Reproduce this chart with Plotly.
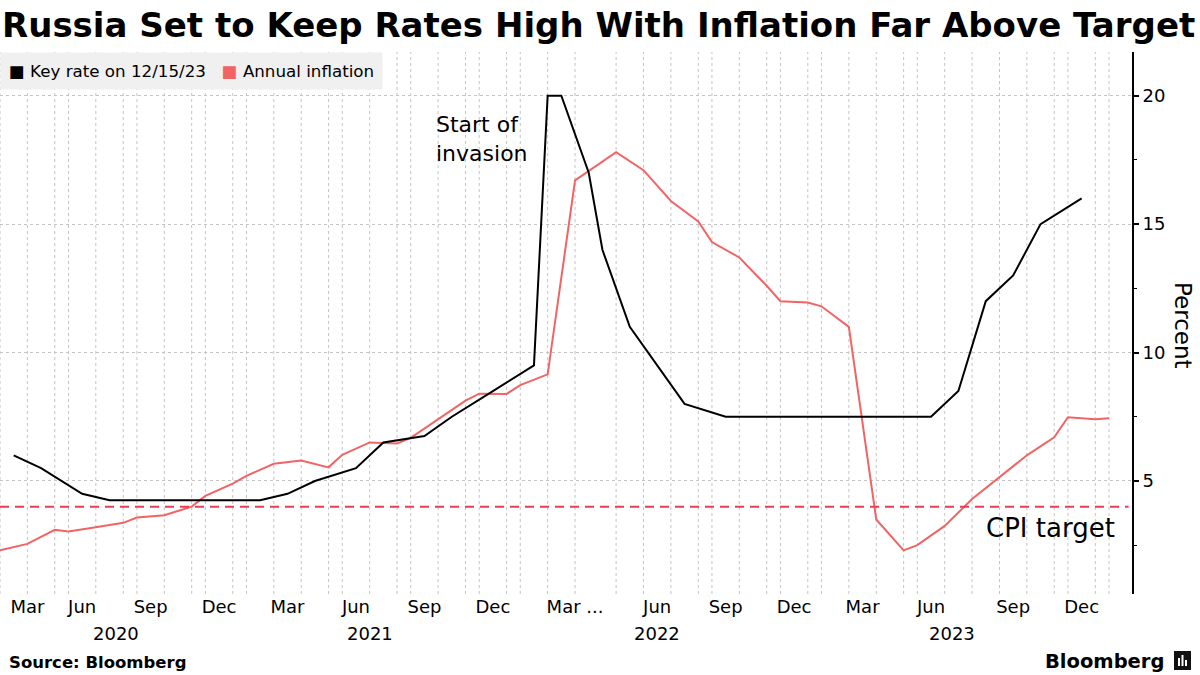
import plotly.graph_objects as go

# ---------------- data ----------------
INFL_DATES = [
    "2020-02-29", "2020-03-31", "2020-04-30", "2020-05-31", "2020-06-30", "2020-07-31",
    "2020-08-31", "2020-09-30", "2020-10-31", "2020-11-30", "2020-12-31",
    "2021-01-31", "2021-02-28", "2021-03-31", "2021-04-30", "2021-05-31", "2021-06-30",
    "2021-07-31", "2021-08-31", "2021-09-30", "2021-10-31", "2021-11-30", "2021-12-31",
    "2022-01-31", "2022-02-28", "2022-03-31", "2022-04-30", "2022-05-31", "2022-06-30",
    "2022-07-31", "2022-08-31", "2022-09-30", "2022-10-31", "2022-11-30", "2022-12-31",
    "2023-01-31", "2023-02-28", "2023-03-31", "2023-04-30", "2023-05-31", "2023-06-30",
    "2023-07-31", "2023-08-31", "2023-09-30", "2023-10-31", "2023-11-30", "2023-12-31",
    "2024-01-31",
]
INFL_VALUES = [
    2.30, 2.55, 3.10, 3.03, 3.20, 3.37,
    3.58, 3.67, 4.00, 4.42, 4.90,
    5.20, 5.67, 5.80, 5.53, 6.02, 6.50,
    6.46, 6.68, 7.40, 8.13, 8.40, 8.39,
    8.73, 9.15, 16.70, 17.80, 17.10, 15.90,
    15.10, 14.30, 13.70, 12.60, 12.00, 11.95,
    11.80, 11.00, 3.50, 2.30, 2.50, 3.25,
    4.30, 5.15, 6.00, 6.70, 7.48, 7.40,
    7.44,
]

RATE_DATES = [
    "2020-03-20", "2020-04-24", "2020-06-19", "2020-07-24", "2020-09-18", "2020-10-23",
    "2020-12-18", "2021-02-12", "2021-03-19", "2021-04-23", "2021-06-11", "2021-07-23",
    "2021-09-10", "2021-10-22", "2021-12-17", "2022-02-11", "2022-02-28", "2022-03-18",
    "2022-04-08", "2022-04-29", "2022-05-26", "2022-06-10", "2022-07-22", "2022-09-16",
    "2022-10-28", "2022-12-16", "2023-02-10", "2023-03-17", "2023-04-28", "2023-06-09",
    "2023-07-21", "2023-08-15", "2023-09-15", "2023-10-27", "2023-12-15",
]
RATE_VALUES = [
    6.00, 5.50, 4.50, 4.25, 4.25, 4.25,
    4.25, 4.25, 4.50, 5.00, 5.50, 6.50,
    6.75, 7.50, 8.50, 9.50, 20.00, 20.00,
    17.00, 14.00, 11.00, 9.50, 8.00, 7.50,
    7.50, 7.50, 7.50, 7.50, 7.50, 7.50,
    8.50, 12.00, 13.00, 15.00, 16.00,
]

TICK_DATES = [
    "2020-03-31", "2020-06-19", "2020-09-18", "2020-12-18",
    "2021-03-19", "2021-06-11", "2021-09-10", "2021-12-17",
    "2022-03-31", "2022-06-10", "2022-09-16", "2022-12-16",
    "2023-03-17", "2023-06-09", "2023-09-15", "2023-12-15",
]
TICK_LABELS = [
    "Mar", "Jun", "Sep", "Dec",
    "Mar", "Jun", "Sep", "Dec",
    "Mar ...", "Jun", "Sep", "Dec",
    "Mar", "Jun", "Sep", "Dec",
]
YEARS = ["2020", "2021", "2022", "2023"]
Y_TICKS = [5, 10, 15, 20]
CPI_TARGET = 4.0

INVASION_DATE = "2022-02-28"

# ---------------- styling ----------------
FONT = "DejaVu Sans"
RED = "#f26464"
TARGET_RED = "#ee3b55"
GRID = "#c4c4c4"

W, H = 1200, 675
PL, PR, PT, PB = 0, 1132, 52, 594


def paper_x(px):
    return (px - PL) / (PR - PL)


def paper_y(py):
    return (PB - py) / (PB - PT)


categories = sorted(set(INFL_DATES) | set(RATE_DATES))
n_cat = len(categories)

fig = go.Figure()
fig.add_trace(go.Scatter(x=INFL_DATES, y=INFL_VALUES, mode="lines",
                         line=dict(color=RED, width=2), name="Annual inflation",
                         showlegend=False))
fig.add_trace(go.Scatter(x=RATE_DATES, y=RATE_VALUES, mode="lines",
                         line=dict(color="black", width=2), name="Key rate on 12/15/23",
                         showlegend=False))

shapes = []
# vertical dotted gridlines at each monthly inflation observation
for d in INFL_DATES:
    shapes.append(dict(type="line", xref="x", yref="paper", x0=d, x1=d, y0=0, y1=1,
                       line=dict(color=GRID, width=1, dash="dot"), layer="below"))
# CPI target line
shapes.append(dict(type="line", xref="paper", yref="y", x0=0, x1=0.997,
                   y0=CPI_TARGET, y1=CPI_TARGET,
                   line=dict(color=TARGET_RED, width=2, dash="9px,6px"), layer="above"))
# Bloomberg logo mark
shapes.append(dict(type="rect", xref="paper", yref="paper",
                   x0=paper_x(1174), x1=paper_x(1191), y0=paper_y(670), y1=paper_y(651),
                   fillcolor="#111111", line=dict(width=0)))
for bx0, bx1, top in [(1178, 1180, 658), (1181.5, 1183.5, 655), (1185, 1187, 660)]:
    shapes.append(dict(type="rect", xref="paper", yref="paper",
                       x0=paper_x(bx0), x1=paper_x(bx1), y0=paper_y(666), y1=paper_y(top),
                       fillcolor="white", line=dict(width=0)))

annotations = []
# year labels centred on each year's span of the category axis
for yr in YEARS:
    idx = [i for i, c in enumerate(categories) if c.startswith(yr)]
    start = max(idx[0] - 1, 0)
    end = idx[-1]
    annotations.append(dict(x=(start + end) / 2, y=paper_y(634), xref="x", yref="paper",
                            text=yr, showarrow=False, xanchor="center", yanchor="middle",
                            font=dict(family=FONT, size=18, color="black")))

# legend (boxed)
nb = "\u00a0"
legend_text = (f"<span style='color:black'>\u25a0</span>{nb}Key rate on 12/15/23{nb*3}"
               f"<span style='color:{RED}'>\u25a0</span>{nb}Annual inflation")
annotations.append(dict(x=0, y=1, xref="paper", yref="paper", xanchor="left", yanchor="top",
                        text=legend_text, showarrow=False, bgcolor="#f0f0f0", borderpad=8,
                        font=dict(family=FONT, size=16.7, color="black")))

annotations.append(dict(x=INVASION_DATE, y=18.3, xref="x", yref="y", xanchor="right",
                        yanchor="middle", xshift=-18, align="left",
                        text="Start of<br>invasion", showarrow=False,
                        font=dict(family=FONT, size=22, color="black")))
annotations.append(dict(x=paper_x(1117), y=CPI_TARGET, xref="paper", yref="y",
                        xanchor="right", yanchor="top", yshift=-4,
                        text="CPI target", showarrow=False,
                        font=dict(family=FONT, size=26, color="black")))
annotations.append(dict(x=paper_x(1183), y=paper_y(325), xref="paper", yref="paper",
                        text="Percent", textangle=90, showarrow=False,
                        xanchor="center", yanchor="middle",
                        font=dict(family=FONT, size=23, color="black")))
annotations.append(dict(x=paper_x(7), y=paper_y(662), xref="paper", yref="paper",
                        xanchor="left", yanchor="middle", text="<b>Source: Bloomberg</b>",
                        showarrow=False, font=dict(family=FONT, size=16.5, color="black")))
annotations.append(dict(x=paper_x(1166), y=paper_y(661), xref="paper", yref="paper",
                        xanchor="right", yanchor="middle", text="<b>Bloomberg</b>",
                        showarrow=False, font=dict(family=FONT, size=19.5, color="black")))

fig.update_layout(
    width=W, height=H,
    margin=dict(l=PL, r=W - PR, t=PT, b=H - PB, pad=0),
    paper_bgcolor="white", plot_bgcolor="white",
    title=dict(text="<b>Russia Set to Keep Rates High With Inflation Far Above Target</b>",
               x=2 / W, xanchor="left", xref="container",
               y=1 - 25 / H, yanchor="middle", yref="container",
               font=dict(family=FONT, size=34, color="black")),
    showlegend=False,
    shapes=shapes,
    annotations=annotations,
    xaxis=dict(type="category", categoryorder="array", categoryarray=categories,
               range=[0, n_cat - 1 + 1.68], tickmode="array", tickvals=TICK_DATES,
               ticktext=TICK_LABELS, showgrid=False, zeroline=False, showline=False,
               ticks="", tickfont=dict(family=FONT, size=18, color="black")),
    yaxis=dict(side="right", range=[0.6, 21.7], tickmode="array", tickvals=Y_TICKS,
               showgrid=True, gridcolor=GRID, griddash="dot", gridwidth=1,
               zeroline=False, showline=True, linecolor="black", linewidth=2,
               ticks="outside", ticklen=5, tickwidth=2, tickcolor="black",
               minor=dict(dtick=2.5, tick0=0, ticks="outside", ticklen=3, tickwidth=1,
                          tickcolor="black", showgrid=False),
               tickfont=dict(family=FONT, size=18, color="black")),
)

fig.write_html("out.html",
               config={"displayModeBar": False, "staticPlot": True},
               post_script="document.body.style.margin='0px';"
                           "document.body.style.overflow='hidden';")
